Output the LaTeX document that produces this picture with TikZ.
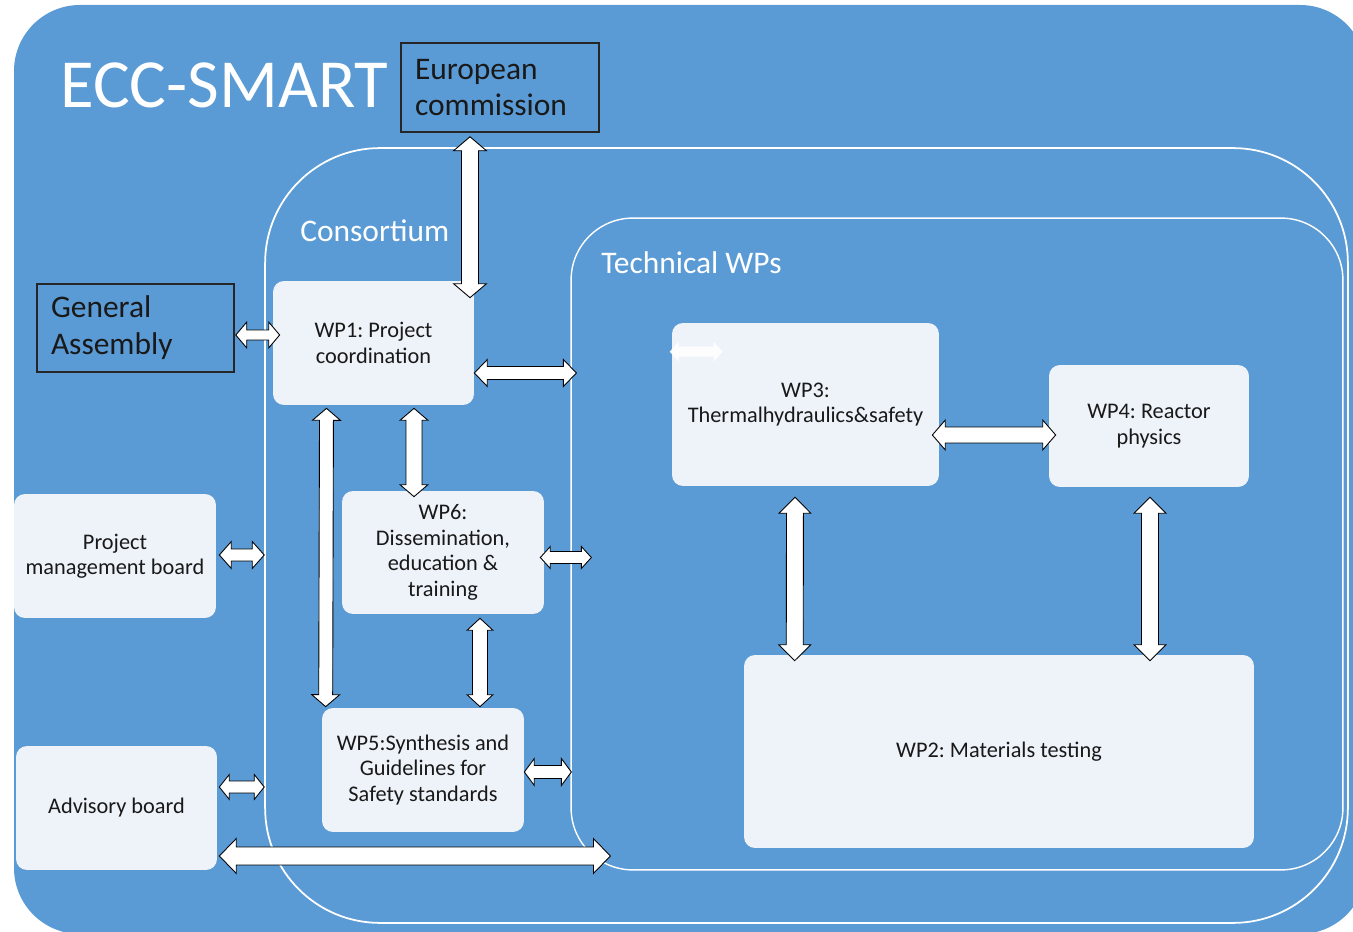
\documentclass[tikz,border=0pt]{standalone}
\usepackage{fontspec}
\setmainfont{Carlito}
\usepackage{tikz}
\usetikzlibrary{calc}
\usepackage{xcolor}
\definecolor{eccblue}{HTML}{5B9BD5}
\definecolor{wpfill}{HTML}{EEF3FA}
\def\pxl{0.5669pt}
% block double arrow: [style]{from}{to}{shaft}{head}{tip length}, sizes in px
\newcommand{\biarrow}[6][blockarrow]{%
  \path[#1] let \p1=#2, \p2=#3, \n1={atan2(\y2-\y1,\x2-\x1)}, \n2={veclen(\x2-\x1,\y2-\y1)} in
    [shift={(\p1)}, rotate=\n1]
    (0pt,0pt) -- ({#6*\pxl},{#5*\pxl/2}) -- ({#6*\pxl},{#4*\pxl/2})
    -- ({\n2*1pt-#6*\pxl},{#4*\pxl/2}) -- ({\n2*1pt-#6*\pxl},{#5*\pxl/2})
    -- ({\n2*1pt},0pt)
    -- ({\n2*1pt-#6*\pxl},{-#5*\pxl/2}) -- ({\n2*1pt-#6*\pxl},{-#4*\pxl/2})
    -- ({#6*\pxl},{-#4*\pxl/2}) -- ({#6*\pxl},{-#5*\pxl/2}) -- cycle;}

\begin{document}
\frenchspacing
\begin{tikzpicture}[x=0.02cm, y=-0.02cm,
  wpbox/.style={fill=wpfill, rounded corners=0.22cm, inner sep=0pt, align=center,
    text=black!90, font=\fontsize{12.7}{14.5}\selectfont},
  govbox/.style={draw=black!85, line width=0.9pt, inner xsep=0.28cm, inner ysep=0pt,
    align=left, text=black!90, font=\fontsize{17.9}{21}\selectfont},
  region/.style={draw=white, line width=1pt, rounded corners=#1, inner sep=0pt},
  heading/.style={text=white, inner sep=0pt, anchor=base west, font=\fontsize{17.9}{21}\selectfont},
  blockarrow/.style={fill=white, draw=black, line width=0.5pt},
  ghostarrow/.style={fill=white, opacity=0.9}]
\useasboundingbox (0,0) rectangle (1353,932);
\clip (0,0) rectangle (1353,932);
%%%BACKGROUND
\fill[eccblue, rounded corners=1.32cm] (14,5) rectangle (1366,934);
\node[region=2.3cm, minimum width=21.66cm, minimum height=15.5cm] (cons) at (806.5,535.5) {};
\node[region=1.24cm, line width=0.8pt, minimum width=15.44cm, minimum height=13.04cm] (tech) at (957,544) {};
%%%TITLES
\node[heading, font=\fontsize{39.2}{41}\selectfont] (title) at (60,108) {ECC-SMART};
\node[heading] (constitle) at (300,242) {Consortium};
\node[heading] (techtitle) at (601,274) {Technical WPs};
%%%GOVERNANCE
\node[govbox, text width=3.4cm, minimum height=1.78cm] (ec) at (500,87.5) {European\\commission};
\node[govbox, text width=3.38cm, minimum height=1.76cm] (ga) at (135.5,328) {General\\Assembly};
\node[wpbox, minimum width=4.04cm, minimum height=2.48cm] (pmb) at (115,556) {Project\\management board};
\node[wpbox, minimum width=4.02cm, minimum height=2.48cm] (ab) at (116.5,808) {Advisory board};
%%%WORK PACKAGES
\node[wpbox, minimum width=4.02cm, minimum height=2.48cm] (wp1) at (373.5,343) {WP1: Project\\coordination};
\node[wpbox, minimum width=4.04cm, minimum height=2.46cm] (wp6) at (443,552.5) {WP6:\\Dissemination,\\education \&\\training};
\node[wpbox, minimum width=4.04cm, minimum height=2.48cm] (wp5) at (423,770) {WP5:Synthesis and\\Guidelines for\\Safety standards};
\node[wpbox, minimum width=5.34cm, minimum height=3.26cm] (wp3) at (805.5,404.5) {WP3:\\Thermalhydraulics\&safety};
\node[wpbox, minimum width=4.00cm, minimum height=2.44cm] (wp4) at (1149,426) {WP4: Reactor\\physics};
\node[wpbox, minimum width=10.2cm, minimum height=3.86cm] (wp2) at (999,751.5) {WP2: Materials testing};
%%%LINKS
\biarrow{($(ec.south)+(-30,4)$)}{($(wp1.north)+(96.5,17)$)}{17}{33}{14}
\biarrow{($(ga.east)+(1,7)$)}{($(wp1.west)+(7,-8)$)}{10}{26}{11}
\biarrow{($(wp1.east)+(0,30)$)}{($(wp1.east -| tech.west)+(6,30)$)}{13}{27}{13}
\biarrow{($(wp1.south)+(40.5,3)$)}{($(wp6.north)+(-29,6)$)}{16}{28}{12}
\biarrow{($(wp1.south)+(-47,3)$)}{($(wp5.north west)+(4,-1)$)}{14}{28}{12}
\biarrow{($(pmb.east)+(3,-1)$)}{($(pmb.east -| cons.west)+(0,-1)$)}{12}{27}{12}
\biarrow{($(wp6.east)+(-4,5)$)}{($(wp6.east -| tech.west)+(21,5)$)}{12}{22}{10}
\biarrow{($(wp6.south)+(37,4)$)}{($(wp5.north)+(57,-1)$)}{15}{26}{12}
\biarrow{($(wp5.east)+(0,2)$)}{($(wp5.east -| tech.west)+(1,2)$)}{13}{27}{10}
\biarrow{($(ab.east)+(2,-21)$)}{($(ab.east -| cons.west)+(0,-21)$)}{12}{25}{10}
\biarrow{($(ab.east)+(2,48)$)}{($(ab.east -| tech.west)+(40,48)$)}{18}{35}{17}
\biarrow{($(wp3.east)+(-7,30.5)$)}{($(wp4.west)+(7,9)$)}{16}{30}{13}
\biarrow{($(wp3.south)+(-10.5,11)$)}{($(wp2.north west)+(51,6)$)}{17}{32}{16}
\biarrow{($(wp4.south)+(1,10)$)}{($(wp2.north)+(151,6)$)}{17}{32}{16}
\biarrow[ghostarrow]{($(wp3.north west)+(-2,29)$)}{($(wp3.north west)+(51,29)$)}{10}{20}{9}
\end{tikzpicture}
\end{document}
